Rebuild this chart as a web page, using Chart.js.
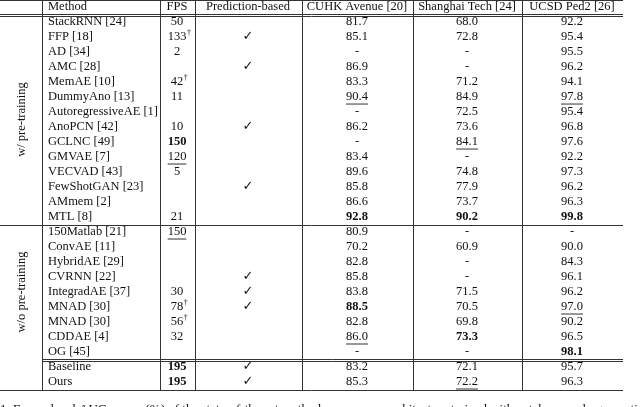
<!DOCTYPE html>
<html>
<head>
<meta charset="utf-8">
<script src="https://cdn.jsdelivr.net/npm/chart.js@4/dist/chart.umd.min.js"></script>
<style>
  html, body { margin: 0; padding: 0; background: #fff; }
  #wrap { width: 640px; height: 407px; }
</style>
</head>
<body>
<div id="wrap"><canvas id="c"></canvas></div>
<script>
// table content, one array per column; suffix "|b" = bold, "|u" = underlined
const headers = ['Method', 'FPS', 'Prediction-based', 'CUHK Avenue [20]', 'Shanghai Tech [24]', 'UCSD Ped2 [26]'];
const methods = ['StackRNN [24]', 'FFP [18]', 'AD [34]', 'AMC [28]', 'MemAE [10]', 'DummyAno [13]', 'AutoregressiveAE [1]',
  'AnoPCN [42]', 'GCLNC [49]', 'GMVAE [7]', 'VECVAD [43]', 'FewShotGAN [23]', 'AMmem [2]', 'MTL [8]',
  '150Matlab [21]', 'ConvAE [11]', 'HybridAE [29]', 'CVRNN [22]', 'IntegradAE [37]', 'MNAD [30]', 'MNAD [30]',
  'CDDAE [4]', 'OG [45]', 'Baseline', 'Ours'];
const fps = ['50', '133†', '2', '', '42†', '11', '', '10', '150|b', '120|u', '5', '', '', '21',
  '150|u', '', '', '', '30', '78†', '56†', '32', '', '195|b', '195|b'];
const predBased = [0, 1, 0, 1, 0, 0, 0, 1, 0, 0, 0, 1, 0, 0,
  0, 0, 0, 1, 1, 1, 0, 0, 0, 1, 1];
const cuhk = ['81.7', '85.1', '-', '86.9', '83.3', '90.4|u', '-', '86.2', '-', '83.4', '89.6', '85.8', '86.6', '92.8|b',
  '80.9', '70.2', '82.8', '85.8', '83.8', '88.5|b', '82.8', '86.0|u', '-', '83.2', '85.3'];
const shanghai = ['68.0', '72.8', '-', '-', '71.2', '84.9', '72.5', '73.6', '84.1|u', '-', '74.8', '77.9', '73.7', '90.2|b',
  '-', '60.9', '-', '-', '71.5', '70.5', '69.8', '73.3|b', '-', '72.1', '72.2|u'];
const ucsd = ['92.2', '95.4', '95.5', '96.2', '94.1', '97.8|u', '95.4', '96.8', '97.6', '92.2', '97.3', '96.2', '96.3', '99.8|b',
  '-', '90.0', '84.3', '96.1', '96.2', '97.0|u', '90.2', '96.5', '98.1|b', '95.7', '96.3'];
const groups = [['w/ pre-training', 1, 14], ['w/o pre-training', 15, 23]];
const caption = '1. Frame-level AUC scores (%) of the state-of-the-art methods versus our architecture trained with patch anomaly generation';

const FONT = '"Liberation Serif", "DejaVu Serif", serif';
const colX = [48, 177, 248, 357, 467, 572];   // text anchors
const vLines = [42, 160, 195, 302, 413, 522];
const RIGHT = 623;

const tablePlugin = {
  id: 'table',
  afterDraw(chart) {
    const ctx = chart.ctx, xs = chart.scales.x, ys = chart.scales.y;
    const X = v => xs.getPixelForValue(v), Y = r => ys.getPixelForValue(r);
    ctx.save();
    ctx.fillStyle = '#111';
    ctx.strokeStyle = '#333';
    ctx.lineWidth = 1;
    ctx.textBaseline = 'middle';

    function cell(raw, x, y, align) {
      if (!raw) return;
      let [txt, st] = raw.split('|');
      let dag = txt.endsWith('†');
      if (dag) txt = txt.slice(0, -1);
      ctx.font = (st === 'b' ? 'bold ' : '') + '12.5px ' + FONT;
      const w = ctx.measureText(txt).width;
      let left = align === 'left' ? x : x - w / 2;
      ctx.textAlign = 'left';
      ctx.fillText(txt, left, y);
      if (dag) {
        ctx.font = '8px ' + FONT;
        ctx.fillText('†', left + w + 0.5, y - 4);
      }
      if (st === 'u') {
        ctx.beginPath();
        ctx.moveTo(left, y + 7);
        ctx.lineTo(left + w, y + 7);
        ctx.stroke();
      }
    }

    headers.forEach((h, i) => cell(h, X(colX[i]), Y(0), i === 0 ? 'left' : 'center'));
    methods.forEach((m, i) => {
      const y = Y(i + 1);
      cell(m, X(colX[0]), y, 'left');
      cell(fps[i], X(colX[1]), y, 'center');
      if (predBased[i]) {
        ctx.font = '13px "DejaVu Sans", sans-serif';
        ctx.textAlign = 'center';
        ctx.fillText('✓', X(colX[2]), y);
      }
      cell(cuhk[i], X(colX[3]), y, 'center');
      cell(shanghai[i], X(colX[4]), y, 'center');
      cell(ucsd[i], X(colX[5]), y, 'center');
    });

    // group labels (rotated)
    ctx.font = '12.5px ' + FONT;
    ctx.textAlign = 'center';
    groups.forEach(([label, a, b]) => {
      ctx.save();
      ctx.translate(X(22), (Y(a - 0.5) + Y(b + 0.5)) / 2);
      ctx.rotate(-Math.PI / 2);
      ctx.fillText(label, 0, 0);
      ctx.restore();
    });

    // rules
    const hLine = (r, x0, x1, dy) => {
      const yy = Math.round(Y(r)) + 0.5 + (dy || 0);
      ctx.beginPath();
      ctx.moveTo(X(x0), yy);
      ctx.lineTo(X(x1), yy);
      ctx.stroke();
    };
    hLine(-0.47, 0, RIGHT);
    hLine(0.5, 0, RIGHT, -1); hLine(0.5, 0, RIGHT, 1);
    hLine(14.5, 0, RIGHT);
    hLine(23.5, 42, RIGHT, -1); hLine(23.5, 42, RIGHT, 1);
    hLine(25.5, 0, RIGHT);
    const top = Math.round(Y(-0.47)), bot = Math.round(Y(25.5));
    vLines.forEach(v => {
      ctx.beginPath();
      ctx.moveTo(Math.round(X(v)) + 0.5, top);
      ctx.lineTo(Math.round(X(v)) + 0.5, bot);
      ctx.stroke();
    });

    ctx.font = '13px ' + FONT;
    ctx.textAlign = 'left';
    ctx.fillText(caption, 0, Y(26.85));
    ctx.restore();
  }
};

new Chart(document.getElementById('c'), {
  type: 'scatter',
  data: { datasets: [{ data: methods.map((m, i) => ({ x: colX[0], y: i + 1 })), pointRadius: 0 }] },
  options: {
    responsive: true,
    maintainAspectRatio: false,
    animation: false,
    layout: { padding: { top: 0, bottom: 16, left: 0, right: 0 } },
    plugins: { legend: { display: false }, tooltip: { enabled: false } },
    scales: {
      x: { type: 'linear', min: 0, max: 640, display: false },
      y: { type: 'linear', min: -0.47, max: 25.6, reverse: true, display: false }
    }
  },
  plugins: [tablePlugin]
});
</script>
</body>
</html>
